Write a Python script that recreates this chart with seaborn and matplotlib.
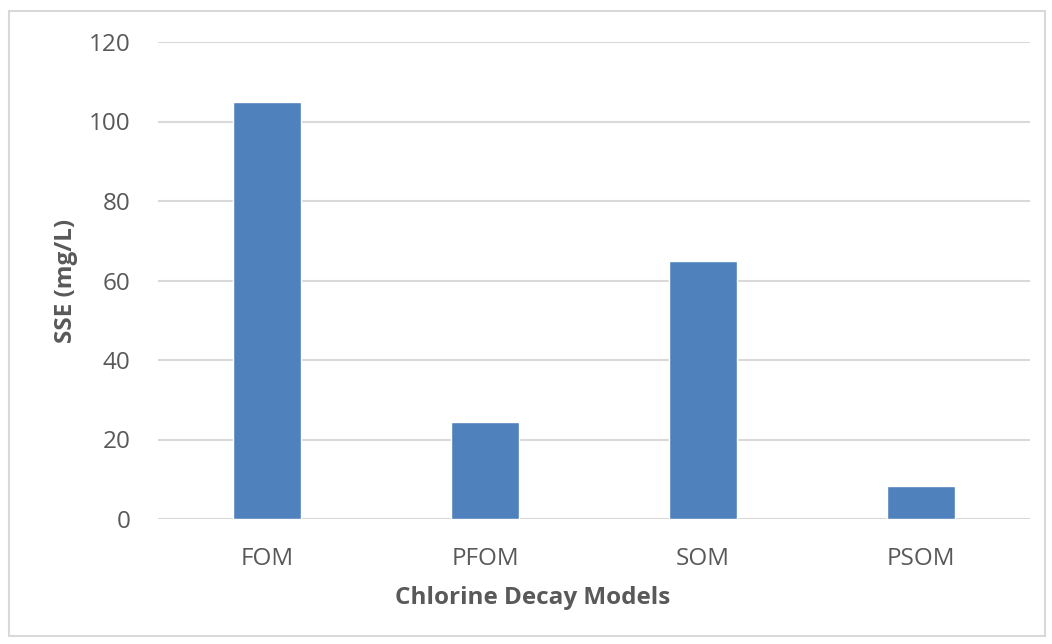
import pandas as pd
import matplotlib.pyplot as plt
import seaborn as sns
from matplotlib.patches import Rectangle

# Chart data
models = ["FOM", "PFOM", "SOM", "PSOM"]
sse = [104.8, 24.4, 65.0, 8.3]
yticks = [0, 20, 40, 60, 80, 100, 120]

df = pd.DataFrame({"model": models, "sse": sse})

sns.set_style("white")
plt.rcParams['font.family'] = ['Open Sans', 'DejaVu Sans']

fig = plt.figure(figsize=(10.52, 6.44), dpi=100)
ax = fig.add_axes([158 / 1052, 1 - 519 / 644, 872 / 1052, 477 / 644])

sns.barplot(data=df, x="model", y="sse", color="#4f81bd", saturation=1,
            width=0.31, ax=ax, zorder=3)

ax.set_ylim(0, 120)
ax.set_yticks(yticks)
ax.set_xlim(-0.5, 3.5)
ax.grid(axis='y', color='#d9d9d9', linewidth=1.5, zorder=0)
ax.grid(axis='x', visible=False)
for s in ax.spines.values():
    s.set_visible(False)
ax.axhline(0, color='#d9d9d9', linewidth=1.5, zorder=2)
ax.tick_params(axis='both', length=0, labelsize=17.5, colors='#595959')
ax.tick_params(axis='y', pad=20)
ax.tick_params(axis='x', pad=20)

ax.set_xlabel("Chlorine Decay Models", fontsize=17.5, weight='bold',
              color='#595959')
ax.set_ylabel("SSE (mg/L)", fontsize=17.5, weight='bold', color='#595959')
# excel centres the x title on the whole chart, not the plot area
ax.xaxis.set_label_coords(0.43, -0.14)
ax.yaxis.set_label_coords(-0.092, 0.5)

# Outer chart border
fig.patches.append(Rectangle((9 / 1052, 1 - 636 / 644), 1036 / 1052, 625 / 644,
                             transform=fig.transFigure, fill=False,
                             edgecolor='#d9d9d9', linewidth=1.5))

fig.savefig("out.png", dpi=100)
